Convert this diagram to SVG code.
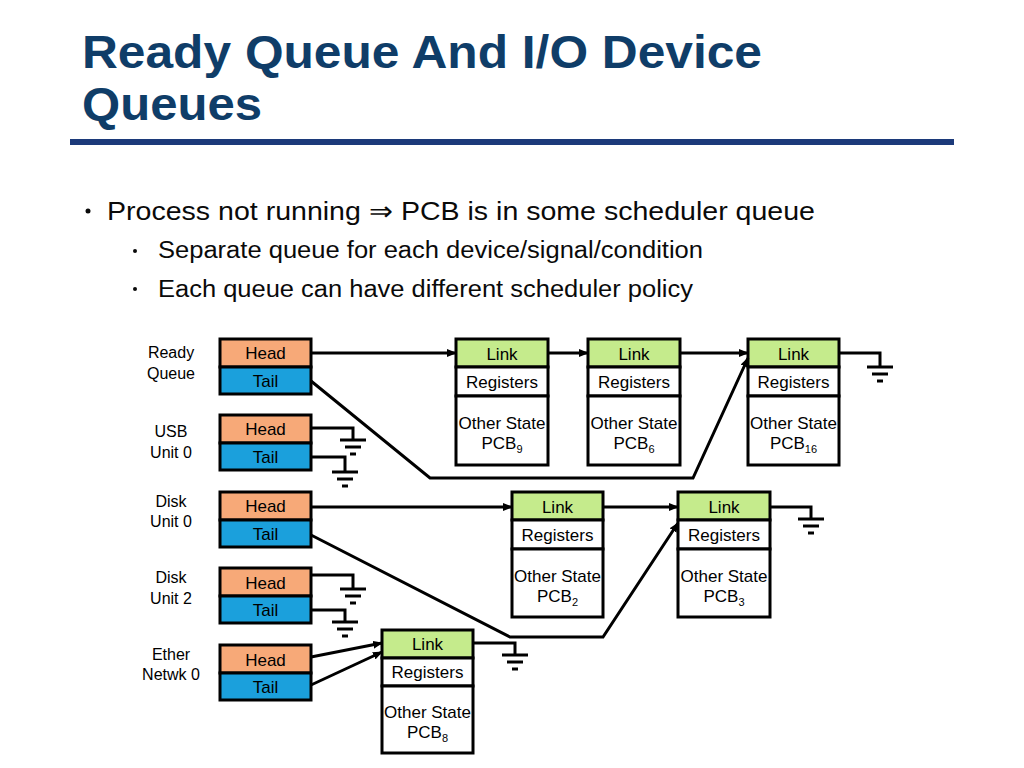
<svg xmlns="http://www.w3.org/2000/svg" width="1024" height="768" viewBox="0 0 1024 768">
<style>
text{font-family:"Liberation Sans",Arial,sans-serif;fill:#000}
.t{font-size:46px;font-weight:bold;fill:#0f3d68}
.b1{font-size:26px;fill:#0a0a0a}
.b2{font-size:23px;fill:#0a0a0a}
.lb{font-size:16px;text-anchor:middle}
.c{font-size:17px;text-anchor:middle}
.h{fill:#f7a978;stroke:#000;stroke-width:3}
.tl{fill:#1ba0dc;stroke:#000;stroke-width:3}
.lk{fill:#c5eb8c;stroke:#000;stroke-width:3}
.w{fill:#fff;stroke:#000;stroke-width:3}
.ln{fill:none;stroke:#000;stroke-width:3}
.g{stroke:#000;stroke-width:3}
</style>
<defs>
<marker id="a" markerWidth="10" markerHeight="8" refX="9" refY="4" orient="auto" markerUnits="userSpaceOnUse"><path d="M0,0L10,4L0,8z"/></marker>
<g id="gnd"><line class="g" x1="-13" y1="0" x2="13" y2="0"/><line class="g" x1="-8" y1="7" x2="8" y2="7"/><line class="g" x1="-3" y1="14" x2="3" y2="14"/></g>
</defs>
<text class="t" x="82" y="68" textLength="680" lengthAdjust="spacingAndGlyphs">Ready Queue And I/O Device</text>
<text class="t" x="82" y="120" textLength="180" lengthAdjust="spacingAndGlyphs">Queues</text>
<rect x="70" y="139" width="884" height="6" fill="#1c3a7a"/>
<circle cx="88" cy="211" r="2.5" fill="#0a0a0a"/>
<text class="b1" x="107" y="220" textLength="708" lengthAdjust="spacingAndGlyphs">Process not running ⇒ PCB is in some scheduler queue</text>
<circle cx="135" cy="251" r="2" fill="#0a0a0a"/>
<text class="b2" x="158" y="258" textLength="545" lengthAdjust="spacingAndGlyphs">Separate queue for each device/signal/condition</text>
<circle cx="135" cy="289" r="2" fill="#0a0a0a"/>
<text class="b2" x="158" y="297" textLength="535" lengthAdjust="spacingAndGlyphs">Each queue can have different scheduler policy</text>

<g id="q-ready"><text class="lb" x="171" y="358">Ready</text><text class="lb" x="171" y="379">Queue</text>
<rect class="h" x="220" y="339" width="91" height="28"/><rect class="tl" x="220" y="367" width="91" height="27"/>
<text class="c" x="265.5" y="359">Head</text><text class="c" x="265.5" y="387">Tail</text></g>
<g id="q-usb"><text class="lb" x="171" y="437">USB</text><text class="lb" x="171" y="458">Unit 0</text>
<rect class="h" x="220" y="415" width="91" height="28"/><rect class="tl" x="220" y="443" width="91" height="27"/>
<text class="c" x="265.5" y="435">Head</text><text class="c" x="265.5" y="463">Tail</text></g>
<g id="q-disk0"><text class="lb" x="171" y="507">Disk</text><text class="lb" x="171" y="527">Unit 0</text>
<rect class="h" x="220" y="492" width="91" height="28"/><rect class="tl" x="220" y="520" width="91" height="27"/>
<text class="c" x="265.5" y="512">Head</text><text class="c" x="265.5" y="540">Tail</text></g>
<g id="q-disk2"><text class="lb" x="171" y="583">Disk</text><text class="lb" x="171" y="604">Unit 2</text>
<rect class="h" x="220" y="568" width="91" height="28"/><rect class="tl" x="220" y="596" width="91" height="27"/>
<text class="c" x="265.5" y="589">Head</text><text class="c" x="265.5" y="616">Tail</text></g>
<g id="q-ether"><text class="lb" x="171" y="660">Ether</text><text class="lb" x="171" y="680">Netwk 0</text>
<rect class="h" x="220" y="645" width="91" height="28"/><rect class="tl" x="220" y="673" width="91" height="27"/>
<text class="c" x="265.5" y="666">Head</text><text class="c" x="265.5" y="693">Tail</text></g>

<g id="pcb9"><rect class="lk" x="456" y="339" width="92" height="28"/><rect class="w" x="456" y="367" width="92" height="29"/><rect class="w" x="456" y="396" width="92" height="69"/>
<text class="c" x="502" y="360">Link</text><text class="c" x="502" y="388">Registers</text><text class="c" x="502" y="429">Other State</text><text class="c" x="502" y="449">PCB<tspan font-size="11" dy="4">9</tspan></text></g>
<g id="pcb6"><rect class="lk" x="588" y="339" width="92" height="28"/><rect class="w" x="588" y="367" width="92" height="29"/><rect class="w" x="588" y="396" width="92" height="69"/>
<text class="c" x="634" y="360">Link</text><text class="c" x="634" y="388">Registers</text><text class="c" x="634" y="429">Other State</text><text class="c" x="634" y="449">PCB<tspan font-size="11" dy="4">6</tspan></text></g>
<g id="pcb16"><rect class="lk" x="748" y="339" width="91" height="28"/><rect class="w" x="748" y="367" width="91" height="29"/><rect class="w" x="748" y="396" width="91" height="69"/>
<text class="c" x="793.5" y="360">Link</text><text class="c" x="793.5" y="388">Registers</text><text class="c" x="793.5" y="429">Other State</text><text class="c" x="793.5" y="449">PCB<tspan font-size="11" dy="4">16</tspan></text></g>
<g id="pcb2"><rect class="lk" x="512" y="492" width="91" height="28"/><rect class="w" x="512" y="520" width="91" height="29"/><rect class="w" x="512" y="549" width="91" height="68"/>
<text class="c" x="557.5" y="513">Link</text><text class="c" x="557.5" y="541">Registers</text><text class="c" x="557.5" y="582">Other State</text><text class="c" x="557.5" y="602">PCB<tspan font-size="11" dy="4">2</tspan></text></g>
<g id="pcb3"><rect class="lk" x="678" y="492" width="92" height="28"/><rect class="w" x="678" y="520" width="92" height="29"/><rect class="w" x="678" y="549" width="92" height="68"/>
<text class="c" x="724" y="513">Link</text><text class="c" x="724" y="541">Registers</text><text class="c" x="724" y="582">Other State</text><text class="c" x="724" y="602">PCB<tspan font-size="11" dy="4">3</tspan></text></g>
<g id="pcb8"><rect class="lk" x="382" y="630" width="91" height="28"/><rect class="w" x="382" y="658" width="91" height="28"/><rect class="w" x="382" y="686" width="91" height="67"/>
<text class="c" x="427.5" y="650">Link</text><text class="c" x="427.5" y="678">Registers</text><text class="c" x="427.5" y="718">Other State</text><text class="c" x="427.5" y="738">PCB<tspan font-size="11" dy="4">8</tspan></text></g>

<g id="connectors">
<line class="ln" x1="311" y1="353" x2="456" y2="353" marker-end="url(#a)"/>
<line class="ln" x1="548" y1="353" x2="588" y2="353" marker-end="url(#a)"/>
<line class="ln" x1="680" y1="353" x2="748" y2="353" marker-end="url(#a)"/>
<polyline class="ln" points="311,381 430,478 693,478 748,358" marker-end="url(#a)"/>
<polyline class="ln" points="839,353 880,353 880,367"/><use href="#gnd" x="880" y="367"/>
<polyline class="ln" points="311,428 353,428 353,440"/><use href="#gnd" x="353" y="440"/>
<polyline class="ln" points="311,457 345,457 345,472"/><use href="#gnd" x="345" y="472"/>
<line class="ln" x1="311" y1="507" x2="512" y2="507" marker-end="url(#a)"/>
<line class="ln" x1="603" y1="507" x2="678" y2="507" marker-end="url(#a)"/>
<polyline class="ln" points="311,535 510,637 603,637 678,523" marker-end="url(#a)"/>
<polyline class="ln" points="770,507 811,507 811,519"/><use href="#gnd" x="811" y="519"/>
<polyline class="ln" points="311,575 353,575 353,589"/><use href="#gnd" x="353" y="589"/>
<polyline class="ln" points="311,610 345,610 345,622"/><use href="#gnd" x="345" y="622"/>
<line class="ln" x1="311" y1="657" x2="382" y2="643" marker-end="url(#a)"/>
<line class="ln" x1="311" y1="685" x2="382" y2="652" marker-end="url(#a)"/>
<polyline class="ln" points="473,643 515,643 515,655"/><use href="#gnd" x="515" y="655"/>
</g>
</svg>
